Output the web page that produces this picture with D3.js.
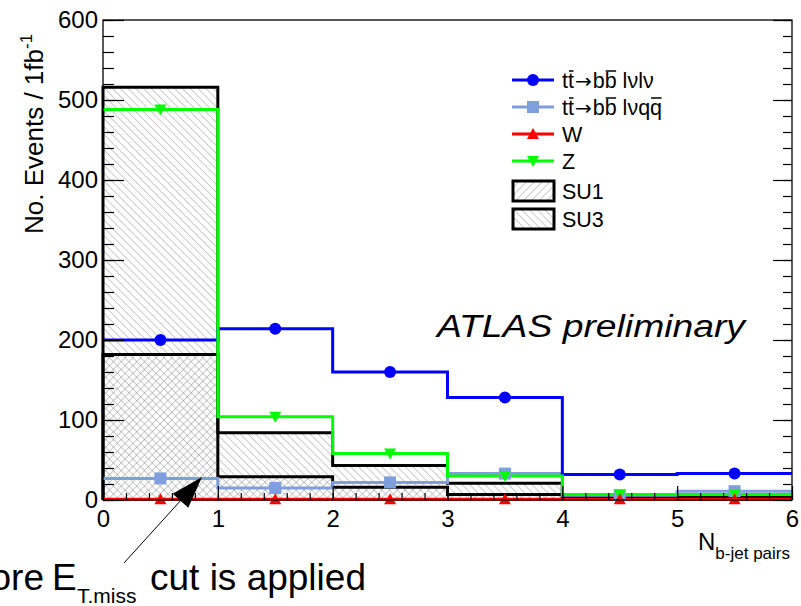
<!DOCTYPE html>
<html><head><meta charset="utf-8">
<script src="https://cdn.jsdelivr.net/npm/d3@7"></script>
<style>
  body { margin: 0; background: #fff; }
  svg { display: block; }
  text { font-family: "Liberation Sans", Arial, Helvetica, sans-serif; fill: #000; }
</style>
</head>
<body>
<svg id="chart" width="801" height="606"></svg>
<script>
// Event counts per number of b-jet pairs, normalised to 1 fb^-1
const bins = [0, 1, 2, 3, 4, 5];
const ttDilep = [200, 214, 160, 128, 32, 33];   // tt -> bb lvlv
const ttSemilep = [27, 15, 22, 33, 6, 11];      // tt -> bb lvqq
const wJets = [1, 1, 1, 1, 1, 1];
const zJets = [488, 104, 58, 30, 7, 7];
const su1 = [182, 29, 16, 7, 2, 1];
const su3 = [516, 84, 43, 21, 5, 3];

const yTicksMajor = [0, 100, 200, 300, 400, 500, 600];
const xTicksMajor = [0, 1, 2, 3, 4, 5, 6];

const svg = d3.select("#chart");
const x = d3.scaleLinear().domain([0, 6]).range([103, 792]);
const y = d3.scaleLinear().domain([0, 600]).range([500, 20]);

// hatch patterns
const defs = svg.append("defs");
function hatch(id, angle) {
  const p = defs.append("pattern").attr("id", id)
    .attr("patternUnits", "userSpaceOnUse").attr("width", 5.5).attr("height", 5.5)
    .attr("patternTransform", `rotate(${angle})`);
  p.append("line").attr("x1", 0).attr("y1", 0).attr("x2", 0).attr("y2", 5.5)
    .attr("stroke", "#8a8a8a").attr("stroke-width", 0.9);
}
hatch("hatchSU1", 45);    // "/" lines
hatch("hatchSU3", -45);   // "\" lines

const stepPts = vals => vals.map((v, i) => [i, v]).concat([[6, vals[vals.length - 1]]]);
const line = d3.line().x(d => x(d[0])).y(d => y(d[1])).curve(d3.curveStepAfter);
const area = d3.area().x(d => x(d[0])).y0(y(0)).y1(d => y(d[1])).curve(d3.curveStepAfter);

const plot = svg.append("g");

// signal histograms (hatched)
[[su3, "hatchSU3"], [su1, "hatchSU1"]].forEach(([vals, pat]) => {
  plot.append("path").attr("d", area(stepPts(vals))).attr("fill", `url(#${pat})`);
});
[su3, su1].forEach(vals => {
  const pts = [[0, 0]].concat(stepPts(vals));
  plot.append("path").attr("d", line(pts)).attr("fill", "none")
    .attr("stroke", "#000").attr("stroke-width", 3);
});

// background histograms
const series = [
  { vals: ttSemilep, color: "#7f9ede", marker: "square" },
  { vals: ttDilep, color: "#0000ff", marker: "circle" },
  { vals: zJets, color: "#00ff00", marker: "tridown" },
  { vals: wJets, color: "#ff0000", marker: "triup" }
];

function drawMarker(g, type, cx, cy, color) {
  if (type === "circle") {
    g.append("circle").attr("cx", cx).attr("cy", cy).attr("r", 6).attr("fill", color);
  } else if (type === "square") {
    g.append("rect").attr("x", cx - 6).attr("y", cy - 6).attr("width", 12).attr("height", 12).attr("fill", color);
  } else if (type === "triup") {
    g.append("path").attr("d", `M${cx},${cy - 6}L${cx + 6},${cy + 5}L${cx - 6},${cy + 5}Z`).attr("fill", color);
  } else {
    g.append("path").attr("d", `M${cx},${cy + 6}L${cx + 6},${cy - 5}L${cx - 6},${cy - 5}Z`).attr("fill", color);
  }
}

series.forEach(s => {
  plot.append("path").attr("d", line(stepPts(s.vals))).attr("fill", "none")
    .attr("stroke", s.color).attr("stroke-width", 3);
});
series.forEach(s => {
  bins.forEach((b, i) => drawMarker(plot, s.marker, x(b + 0.5), y(s.vals[i]), s.color));
});

// axes
const axisFont = g => g.selectAll("text").style("font-size", "24px")
  .style("font-family", '"Liberation Sans", Arial, sans-serif');

const yMinor = d3.range(0, 601, 20);
svg.append("g").attr("transform", `translate(${x(0)},0)`)
  .call(d3.axisLeft(y).tickValues(yMinor).tickSize(-11).tickFormat(""))
  .call(g => g.select(".domain").remove());
svg.append("g").attr("transform", `translate(${x(0)},0)`)
  .call(d3.axisLeft(y).tickValues(yTicksMajor).tickSize(-21).tickPadding(5).tickFormat(d3.format("d")))
  .call(g => g.select(".domain").remove())
  .call(axisFont);
// mirrored ticks on the right edge
svg.append("g").attr("transform", `translate(${x(6)},0)`)
  .call(d3.axisRight(y).tickValues(yMinor).tickSize(-9).tickFormat(""))
  .call(g => g.select(".domain").remove());
svg.append("g").attr("transform", `translate(${x(6)},0)`)
  .call(d3.axisRight(y).tickValues(yTicksMajor).tickSize(-19).tickFormat(""))
  .call(g => g.select(".domain").remove());

const xMinor = d3.range(0, 6.001, 0.2);
svg.append("g").attr("transform", `translate(0,${y(0)})`)
  .call(d3.axisBottom(x).tickValues(xMinor).tickSize(-7).tickFormat(""))
  .call(g => g.select(".domain").remove());
svg.append("g").attr("transform", `translate(0,${y(0)})`)
  .call(d3.axisBottom(x).tickValues(xTicksMajor).tickSize(-14).tickPadding(10).tickFormat(d3.format("d")))
  .call(g => g.select(".domain").remove())
  .call(axisFont);

svg.selectAll(".tick line").attr("stroke", "#000").attr("stroke-width", 1.2);

// frame
svg.append("rect").attr("x", x(0)).attr("y", y(600))
  .attr("width", x(6) - x(0)).attr("height", y(0) - y(600))
  .attr("fill", "none").attr("stroke", "#000").attr("stroke-width", 1.3);

// axis titles
const yt = svg.append("text").attr("transform", `translate(43,234) rotate(-90)`)
  .style("font-size", "26px");
yt.append("tspan").text("No. Events / 1fb");
yt.append("tspan").attr("dy", -11).style("font-size", "17px").text("-1");

const xt = svg.append("text").attr("x", 698).attr("y", 550).style("font-size", "24px");
xt.append("tspan").text("N");
xt.append("tspan").attr("dy", 9).style("font-size", "17px").text("b-jet pairs");

// experiment label
svg.append("text").attr("x", 437).attr("y", 337)
  .attr("textLength", 308).attr("lengthAdjust", "spacingAndGlyphs")
  .style("font-size", "31px").style("font-style", "italic").text("ATLAS preliminary");

// legend
const legendLabels = ["tt\u2192bb l\u03bdl\u03bd", "tt\u2192bb l\u03bdqq", "W", "Z", "SU1", "SU3"];
const overbarIdx = [[1, 4], [1, 4, 9], [], [], [], []];
const legendStyles = [
  { color: "#0000ff", marker: "circle" },
  { color: "#7f9ede", marker: "square" },
  { color: "#ff0000", marker: "triup" },
  { color: "#00ff00", marker: "tridown" },
  { pattern: "hatchSU1" },
  { pattern: "hatchSU3" }
];
const legendY = [80, 107, 134, 161, 191, 219];
const leg = svg.append("g");
legendLabels.forEach((lab, i) => {
  const st = legendStyles[i], cy = legendY[i];
  if (st.pattern) {
    leg.append("rect").attr("x", 513).attr("y", cy - 10).attr("width", 41).attr("height", 20)
      .attr("fill", `url(#${st.pattern})`).attr("stroke", "#000").attr("stroke-width", 3);
  } else {
    leg.append("line").attr("x1", 512).attr("x2", 554).attr("y1", cy).attr("y2", cy)
      .attr("stroke", st.color).attr("stroke-width", 3);
    drawMarker(leg, st.marker, 533, cy, st.color);
  }
  const t = leg.append("text").attr("x", 562).attr("y", cy + 8).style("font-size", "21.5px");
  if (overbarIdx[i].length) {
    // decay labels: the arrow is set in DejaVu Sans for a longer shaft
    const parts = lab.split("\u2192");
    t.append("tspan").text(parts[0]);
    t.append("tspan").style("font-family", '"DejaVu Sans", sans-serif').style("font-size", "20px")
      .attr("dx", 1).text("\u2192");
    t.append("tspan").attr("dx", 1).text(parts[1]);
  } else {
    t.text(lab);
  }
  // antiquark bars over the marked characters
  overbarIdx[i].forEach(ci => {
    const ext = t.node().getExtentOfChar(ci);
    leg.append("line").attr("x1", ext.x + 1).attr("x2", ext.x + ext.width - 0.5)
      .attr("y1", cy - 9).attr("y2", cy - 9).attr("stroke", "#000").attr("stroke-width", 1.5);
  });
});

// annotation with arrow
svg.append("text").attr("x", 44).attr("y", 590).attr("text-anchor", "end")
  .style("font-size", "37px").text("Before");
svg.append("text").attr("x", 52).attr("y", 590).style("font-size", "37px").text("E");
svg.append("text").attr("x", 77).attr("y", 603).style("font-size", "21px").text("T.miss");
svg.append("text").attr("x", 150).attr("y", 590).style("font-size", "37px").text("cut is applied");

const tail = [124, 563], tip = [202, 477];
const dx = tip[0] - tail[0], dy = tip[1] - tail[1], len = Math.hypot(dx, dy);
const ux = dx / len, uy = dy / len, hl = 32, hw = 10.5;
const bx = tip[0] - ux * hl, by = tip[1] - uy * hl;
svg.append("line").attr("x1", tail[0]).attr("y1", tail[1]).attr("x2", bx).attr("y2", by)
  .attr("stroke", "#000").attr("stroke-width", 1);
svg.append("path")
  .attr("d", `M${tip[0]},${tip[1]}L${bx - uy * hw},${by + ux * hw}L${bx + uy * hw},${by - ux * hw}Z`)
  .attr("fill", "#000");
</script>
</body></html>
